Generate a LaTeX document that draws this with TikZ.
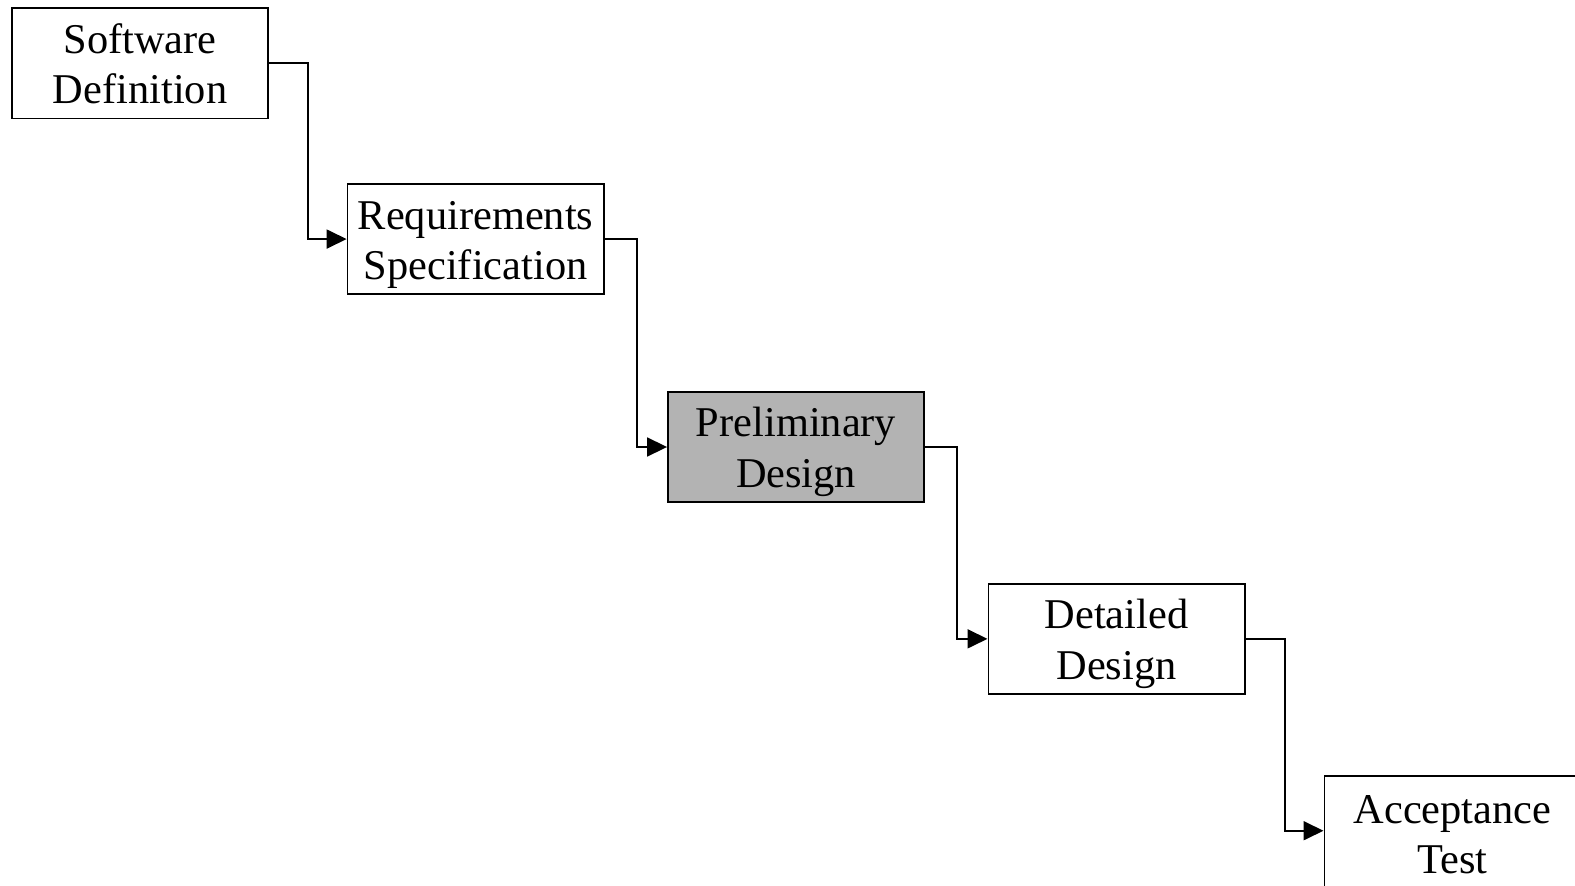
\documentclass[tikz,border=0pt]{standalone}
\usepackage{fontspec}
\setmainfont{Liberation Serif}
\usetikzlibrary{arrows.meta}
\newcommand\twolines[2]{\strut #1\\\strut #2}
\begin{document}
\begin{tikzpicture}[x=1.0045bp,y=-1.0045bp,
  stagebox/.style={draw=black, line width=1.8bp, minimum width=256.2bp, minimum height=110.5bp,
    inner sep=0pt},
  stagetext/.style={align=center, inner sep=0pt, yshift=-5bp, font=\fontsize{42.4bp}{50.2bp}\selectfont},
  flow/.style={draw=black, line width=1.8bp, -{Triangle[length=20bp,width=19bp]}}]
\useasboundingbox (0bp,0bp) rectangle (1575bp,-886bp);
\clip (0bp,0bp) rectangle (1575bp,-886bp);
\fill[white] (0bp,0bp) rectangle (1575bp,-886bp);
\node[stagebox, label={[stagetext]center:\twolines{Software}{Definition}}] (sd) at (139.5,63) {};
\node[stagebox, label={[stagetext]center:\twolines{Requirements}{Specification}}] (rs) at (473.5,238) {};
\node[stagebox, fill={rgb,255:red,179;green,179;blue,179}, label={[stagetext]center:\twolines{Preliminary}{Design}}] (pd) at (792.5,445) {};
\node[stagebox, label={[stagetext]center:\twolines{Detailed}{Design}}] (dd) at (1111.5,636) {};
\node[stagebox, minimum height=120bp, label={[stagetext, yshift=2.5bp]center:\twolines{Acceptance}{Test}}] (at) at (1446,832) {};
\draw[flow] (sd.east) -- ++(39,0) |- (rs.west);
\draw[flow] (rs.east) -- ++(32,0) |- (pd.west);
\draw[flow] (pd.east) -- ++(32,0) |- (dd.west);
\draw[flow] (dd.east) -- ++(39,0) |- ([yshift=5bp]at.west);
\end{tikzpicture}
\end{document}
